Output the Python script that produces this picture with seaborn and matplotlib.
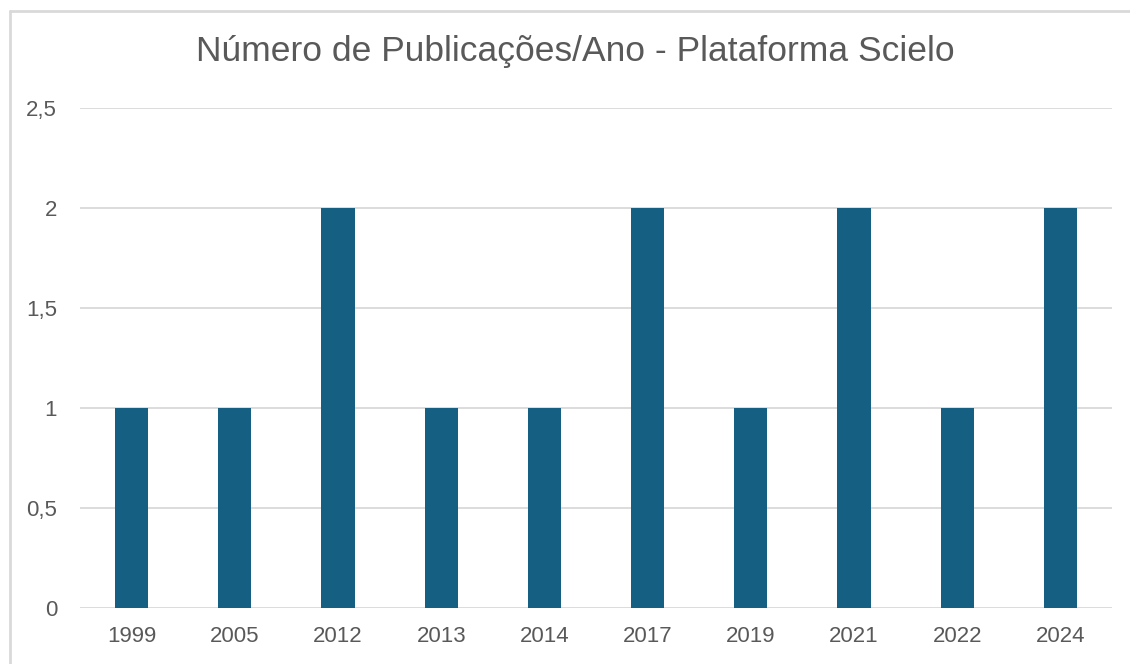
import matplotlib
matplotlib.use("Agg")
import matplotlib.pyplot as plt
import seaborn as sns
from matplotlib.lines import Line2D
from matplotlib.ticker import FuncFormatter

years = ["1999", "2005", "2012", "2013", "2014", "2017", "2019", "2021", "2022", "2024"]
publicacoes = [1, 1, 2, 1, 1, 2, 1, 2, 1, 2]

bar_color = "#156082"
text_color = "#595959"
grid_color = "#D9D9D9"

sns.set_theme(style="white")
plt.rcParams["font.family"] = ["Liberation Sans", "DejaVu Sans"]

fig = plt.figure(figsize=(11.3, 6.64), dpi=100)
ax = fig.add_axes([80 / 1130, 1 - 608 / 664, 1032 / 1130, 500 / 664])

sns.barplot(x=years, y=publicacoes, color=bar_color, width=0.32, saturation=1,
            linewidth=0, ax=ax)

ax.set_ylim(0, 2.5)
ax.set_yticks([0, 0.5, 1, 1.5, 2, 2.5])
ax.yaxis.set_major_formatter(FuncFormatter(lambda v, p: f"{v:g}".replace(".", ",")))
ax.grid(axis="y", color=grid_color, linewidth=1.3)
ax.set_axisbelow(True)
for s in ax.spines.values():
    s.set_visible(False)
ax.tick_params(axis="both", length=0, labelsize=16, colors=text_color)
ax.tick_params(axis="y", pad=16.5)
ax.tick_params(axis="x", pad=13)
ax.set_xlabel("")
ax.set_ylabel("")

fig.text(575 / 1130, 1 - 52 / 664, "Número de Publicações/Ano - Plataforma Scielo",
         ha="center", va="center", fontsize=25.5, color=text_color)

# chart frame (cut off at right and bottom)
fig.add_artist(Line2D([10 / 1130, 1.0], [1 - 11 / 664, 1 - 11 / 664], color=grid_color, lw=2))
fig.add_artist(Line2D([10 / 1130, 10 / 1130], [0, 1 - 11 / 664], color=grid_color, lw=2))

fig.savefig("out.png", dpi=100, facecolor="white")
